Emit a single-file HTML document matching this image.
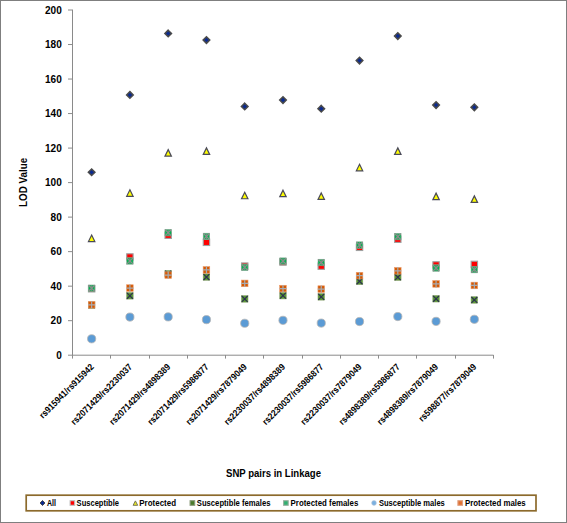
<!DOCTYPE html>
<html><head><meta charset="utf-8"><style>
html,body{margin:0;padding:0;background:#fff;}
svg{display:block;}
.t{font-family:"Liberation Sans",sans-serif;font-size:10.6px;font-weight:bold;fill:#000;}
.tt{font-family:"Liberation Sans",sans-serif;font-size:10.8px;font-weight:bold;fill:#000;}
.xl{font-family:"Liberation Sans",sans-serif;font-size:9.2px;font-weight:bold;fill:#000;}
.l{font-family:"Liberation Sans",sans-serif;font-size:9.5px;font-weight:bold;fill:#000;}
</style></head><body>
<svg width="567" height="523" viewBox="0 0 567 523">
<rect x="0.5" y="0.5" width="566" height="522" fill="#fff" stroke="#7f7f7f" stroke-width="1"/>
<path d="M72.5 9.5V355.7M72 355.2H493.5" stroke="#8a8a8a" stroke-width="1" fill="none"/>
<path d="M68 355.20H72M68 320.68H72M68 286.16H72M68 251.64H72M68 217.12H72M68 182.60H72M68 148.08H72M68 113.56H72M68 79.04H72M68 44.52H72M68 10.00H72M72.5 355V358.6M110.5 355V358.6M149.5 355V358.6M187.5 355V358.6M225.5 355V358.6M263.5 355V358.6M302.5 355V358.6M340.5 355V358.6M378.5 355V358.6M416.5 355V358.6M455.5 355V358.6M493.5 355V358.6" stroke="#8c8c8c" stroke-width="1" fill="none"/>
<text x="61.8" y="358.90" text-anchor="end" class="t" textLength="5.6" lengthAdjust="spacingAndGlyphs">0</text>
<text x="61.8" y="324.38" text-anchor="end" class="t" textLength="11.2" lengthAdjust="spacingAndGlyphs">20</text>
<text x="61.8" y="289.86" text-anchor="end" class="t" textLength="11.2" lengthAdjust="spacingAndGlyphs">40</text>
<text x="61.8" y="255.34" text-anchor="end" class="t" textLength="11.2" lengthAdjust="spacingAndGlyphs">60</text>
<text x="61.8" y="220.82" text-anchor="end" class="t" textLength="11.2" lengthAdjust="spacingAndGlyphs">80</text>
<text x="61.8" y="186.30" text-anchor="end" class="t" textLength="16.8" lengthAdjust="spacingAndGlyphs">100</text>
<text x="61.8" y="151.78" text-anchor="end" class="t" textLength="16.8" lengthAdjust="spacingAndGlyphs">120</text>
<text x="61.8" y="117.26" text-anchor="end" class="t" textLength="16.8" lengthAdjust="spacingAndGlyphs">140</text>
<text x="61.8" y="82.74" text-anchor="end" class="t" textLength="16.8" lengthAdjust="spacingAndGlyphs">160</text>
<text x="61.8" y="48.22" text-anchor="end" class="t" textLength="16.8" lengthAdjust="spacingAndGlyphs">180</text>
<text x="61.8" y="13.70" text-anchor="end" class="t" textLength="16.8" lengthAdjust="spacingAndGlyphs">200</text>
<path d="M91.64 168.94L94.94 172.24L91.64 175.54L88.34 172.24Z" fill="#0a2a90" stroke="#4a4a4a" stroke-width="1.5"/>
<path d="M129.91 91.62L133.21 94.92L129.91 98.22L126.61 94.92Z" fill="#0a2a90" stroke="#4a4a4a" stroke-width="1.5"/>
<path d="M168.18 30.17L171.48 33.47L168.18 36.77L164.88 33.47Z" fill="#0a2a90" stroke="#4a4a4a" stroke-width="1.5"/>
<path d="M206.45 36.73L209.75 40.03L206.45 43.33L203.15 40.03Z" fill="#0a2a90" stroke="#4a4a4a" stroke-width="1.5"/>
<path d="M244.72 103.18L248.02 106.48L244.72 109.78L241.41 106.48Z" fill="#0a2a90" stroke="#4a4a4a" stroke-width="1.5"/>
<path d="M282.99 96.80L286.29 100.10L282.99 103.40L279.69 100.10Z" fill="#0a2a90" stroke="#4a4a4a" stroke-width="1.5"/>
<path d="M321.25 105.43L324.56 108.73L321.25 112.03L317.95 108.73Z" fill="#0a2a90" stroke="#4a4a4a" stroke-width="1.5"/>
<path d="M359.53 57.27L362.83 60.57L359.53 63.87L356.23 60.57Z" fill="#0a2a90" stroke="#4a4a4a" stroke-width="1.5"/>
<path d="M397.80 32.76L401.10 36.06L397.80 39.36L394.50 36.06Z" fill="#0a2a90" stroke="#4a4a4a" stroke-width="1.5"/>
<path d="M436.07 101.80L439.37 105.10L436.07 108.40L432.77 105.10Z" fill="#0a2a90" stroke="#4a4a4a" stroke-width="1.5"/>
<path d="M474.34 104.05L477.64 107.35L474.34 110.65L471.04 107.35Z" fill="#0a2a90" stroke="#4a4a4a" stroke-width="1.5"/>
<rect x="88.44" y="285.55" width="6.40" height="6.40" fill="#ff0000" stroke="#a0a0a0" stroke-width="1.1"/>
<rect x="126.70" y="253.79" width="6.40" height="6.40" fill="#ff0000" stroke="#a0a0a0" stroke-width="1.1"/>
<rect x="164.98" y="232.04" width="6.40" height="6.40" fill="#ff0000" stroke="#a0a0a0" stroke-width="1.1"/>
<rect x="203.25" y="239.12" width="6.40" height="6.40" fill="#ff0000" stroke="#a0a0a0" stroke-width="1.1"/>
<rect x="241.52" y="262.94" width="6.40" height="6.40" fill="#ff0000" stroke="#a0a0a0" stroke-width="1.1"/>
<rect x="279.79" y="258.80" width="6.40" height="6.40" fill="#ff0000" stroke="#a0a0a0" stroke-width="1.1"/>
<rect x="318.06" y="262.94" width="6.40" height="6.40" fill="#ff0000" stroke="#a0a0a0" stroke-width="1.1"/>
<rect x="356.33" y="244.12" width="6.40" height="6.40" fill="#ff0000" stroke="#a0a0a0" stroke-width="1.1"/>
<rect x="394.60" y="236.01" width="6.40" height="6.40" fill="#ff0000" stroke="#a0a0a0" stroke-width="1.1"/>
<rect x="432.87" y="261.73" width="6.40" height="6.40" fill="#ff0000" stroke="#a0a0a0" stroke-width="1.1"/>
<rect x="471.14" y="261.21" width="6.40" height="6.40" fill="#ff0000" stroke="#a0a0a0" stroke-width="1.1"/>
<path d="M91.64 235.05L94.84 241.55L88.44 241.55Z" fill="#ffff00" stroke="#4a4a58" stroke-width="1.2"/>
<path d="M129.91 189.83L133.10 196.33L126.70 196.33Z" fill="#ffff00" stroke="#4a4a58" stroke-width="1.2"/>
<path d="M168.18 149.61L171.38 156.11L164.98 156.11Z" fill="#ffff00" stroke="#4a4a58" stroke-width="1.2"/>
<path d="M206.45 147.89L209.65 154.39L203.25 154.39Z" fill="#ffff00" stroke="#4a4a58" stroke-width="1.2"/>
<path d="M244.72 192.24L247.91 198.74L241.52 198.74Z" fill="#ffff00" stroke="#4a4a58" stroke-width="1.2"/>
<path d="M282.99 190.17L286.19 196.67L279.79 196.67Z" fill="#ffff00" stroke="#4a4a58" stroke-width="1.2"/>
<path d="M321.25 192.94L324.45 199.44L318.06 199.44Z" fill="#ffff00" stroke="#4a4a58" stroke-width="1.2"/>
<path d="M359.53 164.28L362.73 170.78L356.33 170.78Z" fill="#ffff00" stroke="#4a4a58" stroke-width="1.2"/>
<path d="M397.80 147.89L401.00 154.39L394.60 154.39Z" fill="#ffff00" stroke="#4a4a58" stroke-width="1.2"/>
<path d="M436.07 193.11L439.27 199.61L432.87 199.61Z" fill="#ffff00" stroke="#4a4a58" stroke-width="1.2"/>
<path d="M474.34 195.87L477.54 202.37L471.14 202.37Z" fill="#ffff00" stroke="#4a4a58" stroke-width="1.2"/>
<rect x="88.39" y="301.90" width="6.50" height="6.50" fill="#5a9a32" stroke="#8aa070" stroke-width="0.6"/><path d="M88.69 302.20L94.59 308.10M94.59 302.20L88.69 308.10" stroke="#2c3050" stroke-width="1.2"/>
<rect x="126.66" y="292.58" width="6.50" height="6.50" fill="#5a9a32" stroke="#8aa070" stroke-width="0.6"/><path d="M126.95 292.88L132.85 298.78M132.85 292.88L126.95 298.78" stroke="#2c3050" stroke-width="1.2"/>
<rect x="164.93" y="270.48" width="6.50" height="6.50" fill="#5a9a32" stroke="#8aa070" stroke-width="0.6"/><path d="M165.23 270.78L171.12 276.68M171.12 270.78L165.23 276.68" stroke="#2c3050" stroke-width="1.2"/>
<rect x="203.20" y="273.76" width="6.50" height="6.50" fill="#5a9a32" stroke="#8aa070" stroke-width="0.6"/><path d="M203.50 274.06L209.40 279.96M209.40 274.06L203.50 279.96" stroke="#2c3050" stroke-width="1.2"/>
<rect x="241.47" y="295.68" width="6.50" height="6.50" fill="#5a9a32" stroke="#8aa070" stroke-width="0.6"/><path d="M241.77 295.98L247.66 301.88M247.66 295.98L241.77 301.88" stroke="#2c3050" stroke-width="1.2"/>
<rect x="279.74" y="292.40" width="6.50" height="6.50" fill="#5a9a32" stroke="#8aa070" stroke-width="0.6"/><path d="M280.04 292.70L285.94 298.60M285.94 292.70L280.04 298.60" stroke="#2c3050" stroke-width="1.2"/>
<rect x="318.00" y="293.61" width="6.50" height="6.50" fill="#5a9a32" stroke="#8aa070" stroke-width="0.6"/><path d="M318.31 293.91L324.20 299.81M324.20 293.91L318.31 299.81" stroke="#2c3050" stroke-width="1.2"/>
<rect x="356.28" y="278.08" width="6.50" height="6.50" fill="#5a9a32" stroke="#8aa070" stroke-width="0.6"/><path d="M356.58 278.38L362.48 284.28M362.48 278.38L356.58 284.28" stroke="#2c3050" stroke-width="1.2"/>
<rect x="394.55" y="273.93" width="6.50" height="6.50" fill="#5a9a32" stroke="#8aa070" stroke-width="0.6"/><path d="M394.85 274.23L400.75 280.13M400.75 274.23L394.85 280.13" stroke="#2c3050" stroke-width="1.2"/>
<rect x="432.82" y="295.51" width="6.50" height="6.50" fill="#5a9a32" stroke="#8aa070" stroke-width="0.6"/><path d="M433.12 295.81L439.02 301.71M439.02 295.81L433.12 301.71" stroke="#2c3050" stroke-width="1.2"/>
<rect x="471.09" y="296.72" width="6.50" height="6.50" fill="#5a9a32" stroke="#8aa070" stroke-width="0.6"/><path d="M471.39 297.02L477.29 302.92M477.29 297.02L471.39 302.92" stroke="#2c3050" stroke-width="1.2"/>
<rect x="88.39" y="284.98" width="6.50" height="6.50" fill="#00b450" stroke="#8fa898" stroke-width="0.6"/><path d="M88.69 285.28L94.59 291.18M94.59 285.28L88.69 291.18" stroke="#8c8c8c" stroke-width="1.3"/><path d="M91.64 285.28L91.64 291.18" stroke="#8c8c8c" stroke-width="0.8"/>
<rect x="126.66" y="257.71" width="6.50" height="6.50" fill="#00b450" stroke="#8fa898" stroke-width="0.6"/><path d="M126.95 258.01L132.85 263.91M132.85 258.01L126.95 263.91" stroke="#8c8c8c" stroke-width="1.3"/><path d="M129.91 258.01L129.91 263.91" stroke="#8c8c8c" stroke-width="0.8"/>
<rect x="164.93" y="229.40" width="6.50" height="6.50" fill="#00b450" stroke="#8fa898" stroke-width="0.6"/><path d="M165.23 229.70L171.12 235.60M171.12 229.70L165.23 235.60" stroke="#8c8c8c" stroke-width="1.3"/><path d="M168.18 229.70L168.18 235.60" stroke="#8c8c8c" stroke-width="0.8"/>
<rect x="203.20" y="233.20" width="6.50" height="6.50" fill="#00b450" stroke="#8fa898" stroke-width="0.6"/><path d="M203.50 233.50L209.40 239.40M209.40 233.50L203.50 239.40" stroke="#8c8c8c" stroke-width="1.3"/><path d="M206.45 233.50L206.45 239.40" stroke="#8c8c8c" stroke-width="0.8"/>
<rect x="241.47" y="264.10" width="6.50" height="6.50" fill="#00b450" stroke="#8fa898" stroke-width="0.6"/><path d="M241.77 264.40L247.66 270.30M247.66 264.40L241.77 270.30" stroke="#8c8c8c" stroke-width="1.3"/><path d="M244.72 264.40L244.72 270.30" stroke="#8c8c8c" stroke-width="0.8"/>
<rect x="279.74" y="257.88" width="6.50" height="6.50" fill="#00b450" stroke="#8fa898" stroke-width="0.6"/><path d="M280.04 258.18L285.94 264.08M285.94 258.18L280.04 264.08" stroke="#8c8c8c" stroke-width="1.3"/><path d="M282.99 258.18L282.99 264.08" stroke="#8c8c8c" stroke-width="0.8"/>
<rect x="318.00" y="259.26" width="6.50" height="6.50" fill="#00b450" stroke="#8fa898" stroke-width="0.6"/><path d="M318.31 259.56L324.20 265.46M324.20 259.56L318.31 265.46" stroke="#8c8c8c" stroke-width="1.3"/><path d="M321.25 259.56L321.25 265.46" stroke="#8c8c8c" stroke-width="0.8"/>
<rect x="356.28" y="241.83" width="6.50" height="6.50" fill="#00b450" stroke="#8fa898" stroke-width="0.6"/><path d="M356.58 242.13L362.48 248.03M362.48 242.13L356.58 248.03" stroke="#8c8c8c" stroke-width="1.3"/><path d="M359.53 242.13L359.53 248.03" stroke="#8c8c8c" stroke-width="0.8"/>
<rect x="394.55" y="233.37" width="6.50" height="6.50" fill="#00b450" stroke="#8fa898" stroke-width="0.6"/><path d="M394.85 233.67L400.75 239.57M400.75 233.67L394.85 239.57" stroke="#8c8c8c" stroke-width="1.3"/><path d="M397.80 233.67L397.80 239.57" stroke="#8c8c8c" stroke-width="0.8"/>
<rect x="432.82" y="264.79" width="6.50" height="6.50" fill="#00b450" stroke="#8fa898" stroke-width="0.6"/><path d="M433.12 265.09L439.02 270.99M439.02 265.09L433.12 270.99" stroke="#8c8c8c" stroke-width="1.3"/><path d="M436.07 265.09L436.07 270.99" stroke="#8c8c8c" stroke-width="0.8"/>
<rect x="471.09" y="266.34" width="6.50" height="6.50" fill="#00b450" stroke="#8fa898" stroke-width="0.6"/><path d="M471.39 266.64L477.29 272.54M477.29 266.64L471.39 272.54" stroke="#8c8c8c" stroke-width="1.3"/><path d="M474.34 266.64L474.34 272.54" stroke="#8c8c8c" stroke-width="0.8"/>
<circle cx="91.64" cy="338.80" r="4.1" fill="#5b9bd5" stroke="#b4b4b4" stroke-width="0.8"/>
<circle cx="129.91" cy="317.06" r="4.1" fill="#5b9bd5" stroke="#b4b4b4" stroke-width="0.8"/>
<circle cx="168.18" cy="316.88" r="4.1" fill="#5b9bd5" stroke="#b4b4b4" stroke-width="0.8"/>
<circle cx="206.45" cy="319.64" r="4.1" fill="#5b9bd5" stroke="#b4b4b4" stroke-width="0.8"/>
<circle cx="244.72" cy="323.27" r="4.1" fill="#5b9bd5" stroke="#b4b4b4" stroke-width="0.8"/>
<circle cx="282.99" cy="320.33" r="4.1" fill="#5b9bd5" stroke="#b4b4b4" stroke-width="0.8"/>
<circle cx="321.25" cy="323.10" r="4.1" fill="#5b9bd5" stroke="#b4b4b4" stroke-width="0.8"/>
<circle cx="359.53" cy="321.54" r="4.1" fill="#5b9bd5" stroke="#b4b4b4" stroke-width="0.8"/>
<circle cx="397.80" cy="316.54" r="4.1" fill="#5b9bd5" stroke="#b4b4b4" stroke-width="0.8"/>
<circle cx="436.07" cy="321.37" r="4.1" fill="#5b9bd5" stroke="#b4b4b4" stroke-width="0.8"/>
<circle cx="474.34" cy="319.30" r="4.1" fill="#5b9bd5" stroke="#b4b4b4" stroke-width="0.8"/>
<rect x="88.34" y="301.50" width="6.60" height="6.60" fill="#d35a06" stroke="#ec9a68" stroke-width="0.6"/><path d="M91.64 301.30L91.64 308.30M88.14 304.80L95.14 304.80" stroke="#a6acb4" stroke-width="1.2"/>
<rect x="126.61" y="284.76" width="6.60" height="6.60" fill="#d35a06" stroke="#ec9a68" stroke-width="0.6"/><path d="M129.91 284.56L129.91 291.56M126.41 288.06L133.41 288.06" stroke="#a6acb4" stroke-width="1.2"/>
<rect x="164.88" y="271.81" width="6.60" height="6.60" fill="#d35a06" stroke="#ec9a68" stroke-width="0.6"/><path d="M168.18 271.61L168.18 278.61M164.68 275.11L171.68 275.11" stroke="#a6acb4" stroke-width="1.2"/>
<rect x="203.15" y="266.64" width="6.60" height="6.60" fill="#d35a06" stroke="#ec9a68" stroke-width="0.6"/><path d="M206.45 266.44L206.45 273.44M202.95 269.94L209.95 269.94" stroke="#a6acb4" stroke-width="1.2"/>
<rect x="241.41" y="280.10" width="6.60" height="6.60" fill="#d35a06" stroke="#ec9a68" stroke-width="0.6"/><path d="M244.72 279.90L244.72 286.90M241.22 283.40L248.22 283.40" stroke="#a6acb4" stroke-width="1.2"/>
<rect x="279.69" y="285.28" width="6.60" height="6.60" fill="#d35a06" stroke="#ec9a68" stroke-width="0.6"/><path d="M282.99 285.08L282.99 292.08M279.49 288.58L286.49 288.58" stroke="#a6acb4" stroke-width="1.2"/>
<rect x="317.95" y="285.79" width="6.60" height="6.60" fill="#d35a06" stroke="#ec9a68" stroke-width="0.6"/><path d="M321.25 285.59L321.25 292.59M317.75 289.09L324.75 289.09" stroke="#a6acb4" stroke-width="1.2"/>
<rect x="356.23" y="272.33" width="6.60" height="6.60" fill="#d35a06" stroke="#ec9a68" stroke-width="0.6"/><path d="M359.53 272.13L359.53 279.13M356.03 275.63L363.03 275.63" stroke="#a6acb4" stroke-width="1.2"/>
<rect x="394.50" y="267.50" width="6.60" height="6.60" fill="#d35a06" stroke="#ec9a68" stroke-width="0.6"/><path d="M397.80 267.30L397.80 274.30M394.30 270.80L401.30 270.80" stroke="#a6acb4" stroke-width="1.2"/>
<rect x="432.77" y="280.62" width="6.60" height="6.60" fill="#d35a06" stroke="#ec9a68" stroke-width="0.6"/><path d="M436.07 280.42L436.07 287.42M432.57 283.92L439.57 283.92" stroke="#a6acb4" stroke-width="1.2"/>
<rect x="471.04" y="282.17" width="6.60" height="6.60" fill="#d35a06" stroke="#ec9a68" stroke-width="0.6"/><path d="M474.34 281.97L474.34 288.97M470.84 285.47L477.84 285.47" stroke="#a6acb4" stroke-width="1.2"/>
<text transform="translate(89.44 362.5) rotate(-45)" x="0" y="7" text-anchor="end" class="xl" textLength="72.8" lengthAdjust="spacingAndGlyphs">rs915941/rs915942</text>
<text transform="translate(127.70 362.5) rotate(-45)" x="0" y="7" text-anchor="end" class="xl" textLength="82.1" lengthAdjust="spacingAndGlyphs">rs2071429/rs2230037</text>
<text transform="translate(165.98 362.5) rotate(-45)" x="0" y="7" text-anchor="end" class="xl" textLength="82.1" lengthAdjust="spacingAndGlyphs">rs2071429/rs4898389</text>
<text transform="translate(204.25 362.5) rotate(-45)" x="0" y="7" text-anchor="end" class="xl" textLength="82.1" lengthAdjust="spacingAndGlyphs">rs2071429/rs5986877</text>
<text transform="translate(242.52 362.5) rotate(-45)" x="0" y="7" text-anchor="end" class="xl" textLength="82.1" lengthAdjust="spacingAndGlyphs">rs2071429/rs7879049</text>
<text transform="translate(280.79 362.5) rotate(-45)" x="0" y="7" text-anchor="end" class="xl" textLength="82.1" lengthAdjust="spacingAndGlyphs">rs2230037/rs4898389</text>
<text transform="translate(319.06 362.5) rotate(-45)" x="0" y="7" text-anchor="end" class="xl" textLength="82.1" lengthAdjust="spacingAndGlyphs">rs2230037/rs5986877</text>
<text transform="translate(357.33 362.5) rotate(-45)" x="0" y="7" text-anchor="end" class="xl" textLength="82.1" lengthAdjust="spacingAndGlyphs">rs2230037/rs7879049</text>
<text transform="translate(395.60 362.5) rotate(-45)" x="0" y="7" text-anchor="end" class="xl" textLength="82.1" lengthAdjust="spacingAndGlyphs">rs4898389/rs5986877</text>
<text transform="translate(433.87 362.5) rotate(-45)" x="0" y="7" text-anchor="end" class="xl" textLength="82.1" lengthAdjust="spacingAndGlyphs">rs4898389/rs7879049</text>
<text transform="translate(472.14 362.5) rotate(-45)" x="0" y="7" text-anchor="end" class="xl" textLength="77.5" lengthAdjust="spacingAndGlyphs">rs598877/rs7879049</text>
<text transform="translate(27 182.4) rotate(-90)" text-anchor="middle" class="tt" style="font-size:10.4px" textLength="49" lengthAdjust="spacingAndGlyphs">LOD Value</text>
<text x="226" y="476.6" class="tt" textLength="95" lengthAdjust="spacingAndGlyphs">SNP pairs in Linkage</text>
<rect x="26.2" y="495.2" width="509.8" height="15.6" fill="none" stroke="#8c6a2c" stroke-width="1.7"/>
<path d="M42.50 500.50L45.00 503.00L42.50 505.50L40.00 503.00Z" fill="#0a2a90" stroke="#4a4a4a" stroke-width="1.0"/>
<rect x="70.10" y="500.70" width="4.60" height="4.60" fill="#ff0000" stroke="#c0c0c0" stroke-width="1.1"/>
<path d="M135.4 500.9L137.7 505.3L133.1 505.3Z" fill="#e8e820" stroke="#76765a" stroke-width="1"/>
<rect x="190.10" y="500.70" width="4.60" height="4.60" fill="#4a7a2a" stroke="#8a9a7a" stroke-width="1.1"/>
<rect x="283.60" y="500.70" width="4.60" height="4.60" fill="#30b070" stroke="#9ab0a0" stroke-width="1.1"/>
<circle cx="374" cy="503" r="2.4" fill="#7ab0e0" stroke="#c0c8d8" stroke-width="0.6"/>
<rect x="457.90" y="500.70" width="4.60" height="4.60" fill="#e07030" stroke="#e0a080" stroke-width="1.1"/>
<text x="47" y="506.2" class="l" textLength="9.0" lengthAdjust="spacingAndGlyphs">All</text>
<text x="76.6" y="506.2" class="l" textLength="42.4" lengthAdjust="spacingAndGlyphs">Susceptible</text>
<text x="139.3" y="506.2" class="l" textLength="36.7" lengthAdjust="spacingAndGlyphs">Protected</text>
<text x="196.8" y="506.2" class="l" textLength="73.7" lengthAdjust="spacingAndGlyphs">Susceptible females</text>
<text x="290.6" y="506.2" class="l" textLength="67.7" lengthAdjust="spacingAndGlyphs">Protected females</text>
<text x="378.9" y="506.2" class="l" textLength="65.9" lengthAdjust="spacingAndGlyphs">Susceptible males</text>
<text x="465" y="506.2" class="l" textLength="60.7" lengthAdjust="spacingAndGlyphs">Protected males</text>
</svg>
</body></html>
